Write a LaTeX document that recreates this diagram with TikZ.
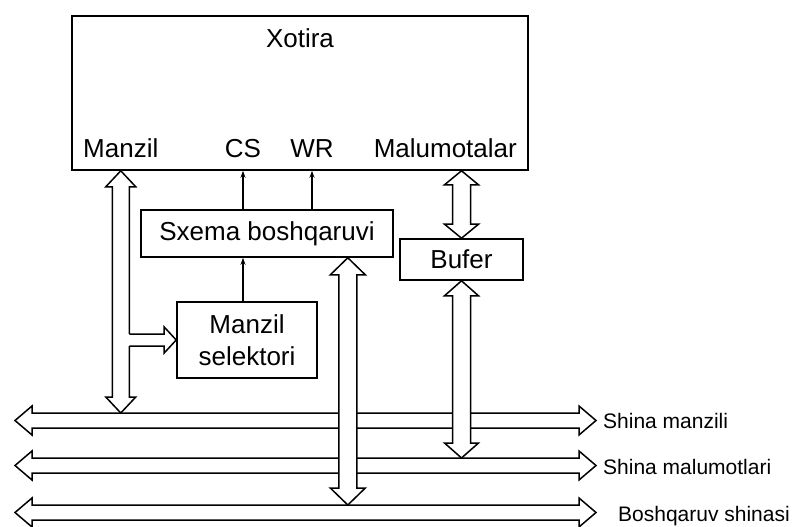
\documentclass[tikz,border=0pt]{standalone}
\usepackage{fontspec}
\setmainfont{Liberation Sans}
\usepackage{tikz}
\usetikzlibrary{calc, positioning, arrows.meta}

\tikzset{
  blk/.style={draw, line width=1.6bp, inner sep=0pt, align=center,
    font=\fontsize{26bp}{32bp}\selectfont},
  lbl/.style={inner sep=0pt, font=\fontsize{26bp}{32bp}\selectfont},
  buslbl/.style={inner sep=0pt, anchor=west, font=\fontsize{21bp}{25bp}\selectfont},
  bus/.style={draw, fill=white, line width=1.5bp, line join=miter},
  busline/.style={line width=1.5bp, line join=miter},
  sig/.style={line width=1.3bp, ->},
}

% ikki tomonli vertikal strelka: uchi, pastki uchi, yarim kenglik, bosh yarim kengligi, bosh uzunligi
\newcommand{\vbus}[5]{%
  \draw[bus] (#1) -- ++(#4,#5) -- ++({#3-#4},0) -- ($(#2)+(#3,-#5)$)
    -- ++({#4-#3},0) -- (#2) -- ++(-#4,-#5) -- ++({#4-#3},0)
    -- ($(#1)+(-#3,#5)$) -- ++({#3-#4},0) -- cycle;}
% gorizontal shina
\newcommand{\hbus}[2]{%
  \draw[bus] (#1) -- ++(17,-14.5) -- ++(0,7) -- ($(#2)+(-17,-7.5)$) -- ++(0,-7) -- (#2)
    -- ++(-17,14.5) -- ++(0,-7) -- ($(#1)+(17,7.5)$) -- ++(0,7) -- cycle;}

\begin{document}
\begin{tikzpicture}[>={Stealth[length=7bp, width=5bp]}, x=1bp, y=-1bp]
    \useasboundingbox (0,0) rectangle (802,527);

    % 1. Bloklar
    \node[blk, minimum width=456bp, minimum height=154bp] (xot) at (300,93) {};
    \node[lbl] (xtl) at (300,38) {Xotira};
    \node[lbl, anchor=base west] (mz) at (83,158) {Manzil};
    \node[lbl, anchor=base] (cs) at (243,158) {CS};
    \node[lbl, anchor=base] (wr) at (312,158) {WR};
    \node[lbl, anchor=base east] (mt) at (517,158) {Malumotalar};
    \node[blk, minimum width=252bp, minimum height=47bp] (sxm) at (267,233.5) {Sxema boshqaruvi};
    \node[blk, minimum width=140bp, minimum height=76bp] (sel) at (247,340) {Manzil\\selektori};
    \node[blk, minimum width=123bp, minimum height=41bp] (buf) at (461.5,259.5) {Bufer};

    % 2. Shinalar
    \coordinate (b1w) at (15,420.5);
    \coordinate (b1e) at (596,420.5);
    \coordinate (b2w) at (15,465.5);
    \coordinate (b2e) at (596,465.5);
    \coordinate (b3w) at (15,512.5);
    \coordinate (b3e) at (596,512.5);
    \hbus{b1w}{b1e}
    \hbus{b2w}{b2e}
    \hbus{b3w}{b3e}
    \node[buslbl] (l1) at (603,421) {Shina manzili};
    \node[buslbl] (l2) at (603,467) {Shina malumotlari};
    \node[buslbl] (l3) at (618,516) {Boshqaruv shinasi};

    % 3. Vertikal strelkalar
    \coordinate (mzt) at (mz.south |- xot.south);
    \coordinate (mzb) at ($(mz.south |- b1w)+(0,-7.5)$);
    \vbus{mzt}{mzb}{8.5}{15}{16}
    \coordinate (but) at (buf.north |- xot.south);
    \vbus{but}{buf.north}{9}{17}{14}
    \coordinate (bub) at ($(buf.south |- b2w)+(0,-7.5)$);
    \vbus{buf.south}{bub}{9}{17}{15}
    \coordinate (ctl) at ($(sxm.south east)+(-46,0)$);
    \coordinate (ctb) at ($(ctl |- b3w)+(0,-7.5)$);
    \vbus{ctl}{ctb}{9}{17.5}{17}

    % 4. Manzil selektoriga tarmoq
    \coordinate (brs) at ($(sel.west -| mzt)+(8.5,0)$);
    \fill[white] ($(brs)+(-1.5,-6)$) rectangle ($(brs)+(1.5,6)$);
    \draw[busline] ($(brs)+(0,-6)$) -- ($(sel.west)+(-12,-6)$) -- ++(0,-7) -- (sel.west)
        -- ($(sel.west)+(-12,13)$) -- ++(0,-7) -- ($(brs)+(0,6)$);

    % 5. Signallar
    \draw[sig] (sxm.north -| cs) -- (xot.south -| cs);
    \draw[sig] (sxm.north -| wr) -- (xot.south -| wr);
    \draw[sig] (sel.north -| cs) -- (sxm.south -| cs);
\end{tikzpicture}
\end{document}
